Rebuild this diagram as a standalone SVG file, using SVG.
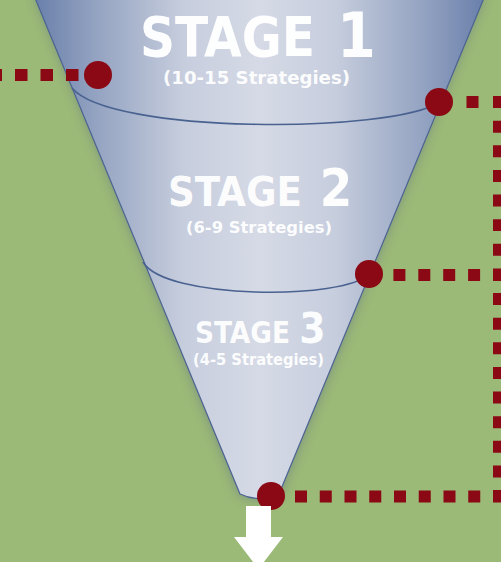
<svg xmlns="http://www.w3.org/2000/svg" width="501" height="562" viewBox="0 0 501 562">
  <defs>
    <linearGradient id="funnelGrad" gradientUnits="userSpaceOnUse" x1="35" y1="0" x2="484" y2="0">
      <stop offset="0" stop-color="#6a80ab"/>
      <stop offset="0.14" stop-color="#95a4c2"/>
      <stop offset="0.33" stop-color="#c6cddd"/>
      <stop offset="0.5" stop-color="#d6dae6"/>
      <stop offset="0.67" stop-color="#c6cddd"/>
      <stop offset="0.86" stop-color="#95a4c2"/>
      <stop offset="1" stop-color="#6a80ab"/>
    </linearGradient>
    <filter id="glow" x="-20%" y="-20%" width="140%" height="140%">
      <feGaussianBlur stdDeviation="6"/>
    </filter>
  </defs>
  <style>
    .title { font-family: "DejaVu Sans Condensed", "DejaVu Sans", "Liberation Sans", sans-serif; font-weight: bold; fill: #ffffff; fill-opacity: 0.96; }
    .sub { font-family: "DejaVu Sans Condensed", "DejaVu Sans", "Liberation Sans", sans-serif; font-weight: bold; fill: #ffffff; fill-opacity: 0.96; }
    .divider { fill: none; stroke: #4a6290; stroke-width: 1.6; }
    .dots { fill: none; stroke: #8a0915; stroke-width: 12; stroke-linecap: butt; }
    .dot { fill: #8a0915; }
  </style>

  <rect x="0" y="0" width="501" height="562" fill="#9bb977"/>

  <g id="funnel">
    <path d="M35,-5 L484,-5 L279,494 Q259,503 240,494 Z" fill="#5d6a8a" opacity="0.6" filter="url(#glow)"/>
    <path d="M35,-2 L484,-2 L279,494 Q259,503 240,494 Z" fill="url(#funnelGrad)" stroke="#4c6391" stroke-width="1.2"/>
    <path class="divider" d="M72,88 C110,134 390,134 440,102"/>
    <path class="divider" d="M143,262 C165,300 345,300 369,274"/>
  </g>

  <g id="stage1">
    <text class="title" x="140" y="56" font-size="56" textLength="175" lengthAdjust="spacingAndGlyphs">STAGE</text>
    <text class="title" x="356.5" y="57" font-size="62" text-anchor="middle">1</text>
    <text class="sub" x="163" y="84" font-size="18" textLength="187" lengthAdjust="spacingAndGlyphs">(10-15 Strategies)</text>
  </g>

  <g id="stage2">
    <text class="title" x="168" y="206" font-size="41" textLength="134" lengthAdjust="spacingAndGlyphs">STAGE</text>
    <text class="title" x="336" y="206" font-size="52" text-anchor="middle">2</text>
    <text class="sub" x="186" y="233" font-size="16.5" textLength="146" lengthAdjust="spacingAndGlyphs">(6-9 Strategies)</text>
  </g>

  <g id="stage3">
    <text class="title" x="195" y="343" font-size="30" textLength="95" lengthAdjust="spacingAndGlyphs">STAGE</text>
    <text class="title" x="312.5" y="343" font-size="42" text-anchor="middle">3</text>
    <text class="sub" x="193" y="365" font-size="15" textLength="131" lengthAdjust="spacingAndGlyphs">(4-5 Strategies)</text>
  </g>

  <g id="connectors">
    <line class="dots" x1="78.5" y1="75" x2="-20" y2="75" stroke-dasharray="12.5 13"/>
    <line class="dots" x1="505" y1="102" x2="452" y2="102" stroke-dasharray="12 14.5"/>
    <line class="dots" x1="499" y1="96" x2="499" y2="502" stroke-dasharray="12 12.625"/>
    <line class="dots" x1="505" y1="275" x2="382" y2="275" stroke-dasharray="12 12.9"/>
    <line class="dots" x1="505" y1="496.5" x2="284" y2="496.5" stroke-dasharray="12 12.75"/>
    <circle class="dot" cx="98" cy="75" r="14"/>
    <circle class="dot" cx="439" cy="102" r="14"/>
    <circle class="dot" cx="369" cy="274" r="14"/>
    <circle class="dot" cx="271" cy="496" r="14"/>
  </g>

  <g id="output-arrow">
    <polygon points="246,506 271,506 271,537 283,537 258.5,569 234,537 246,537" fill="#ffffff"/>
  </g>
</svg>
